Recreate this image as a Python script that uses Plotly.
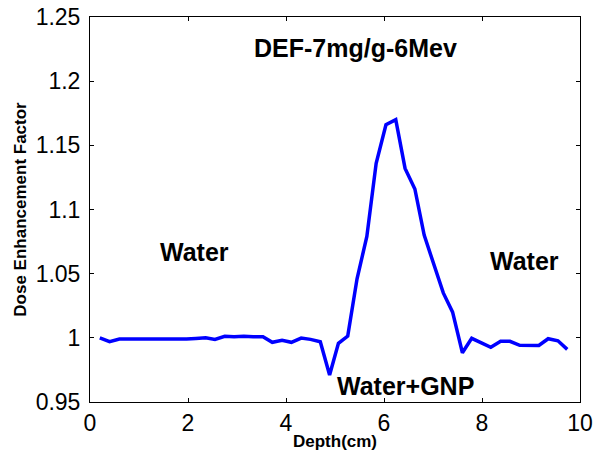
import plotly.graph_objects as go

depth_cm = [0.20, 0.40, 0.60, 0.80, 0.99, 1.19, 1.38, 1.58, 1.77, 1.97,
            2.16, 2.36, 2.55, 2.75, 2.94, 3.14, 3.33, 3.53, 3.72, 3.92,
            4.11, 4.31, 4.50, 4.70, 4.89, 5.07, 5.26, 5.45, 5.65, 5.84,
            6.04, 6.24, 6.43, 6.63, 6.82, 7.01, 7.21, 7.40, 7.60, 7.79,
            7.99, 8.18, 8.38, 8.57, 8.77, 8.96, 9.16, 9.35, 9.55, 9.74]
def_values = [1.0000, 0.9970, 0.9990, 0.9990, 0.9990, 0.9985, 0.9985, 0.9990, 0.9985, 0.9990,
              0.9995, 1.0000, 0.9988, 1.0012, 1.0008, 1.0012, 1.0008, 1.0008, 0.9965, 0.9980,
              0.9965, 0.9998, 0.9988, 0.9970, 0.9710, 0.9957, 1.0014, 1.0460, 1.0790, 1.1360,
              1.1660, 1.1700, 1.1320, 1.1160, 1.0800, 1.0580, 1.0350, 1.0200, 0.9884, 0.9996,
              0.9957, 0.9926, 0.9973, 0.9973, 0.9942, 0.9942, 0.9940, 0.9993, 0.9977, 0.9910]

x_ticks = [0, 2, 4, 6, 8, 10]
y_ticks = [0.95, 1.0, 1.05, 1.1, 1.15, 1.2, 1.25]
y_tick_text = ["0.95", "1", "1.05", "1.1", "1.15", "1.2", "1.25"]

chart_title = "DEF-7mg/g-6Mev"
region_labels = ["Water", "Water", "Water+GNP"]
region_x = [2.13, 8.86, 6.44]
region_y = [1.0665, 1.0595, 0.9625]

FONT = "Liberation Sans, Arial, sans-serif"

fig = go.Figure()
fig.add_trace(go.Scatter(
    x=depth_cm, y=def_values, mode="lines",
    line=dict(color="#0000FF", width=3.5),
    showlegend=False,
))

fig.add_annotation(x=5.42, y=1.2255, text="<b>%s</b>" % chart_title, showarrow=False,
                   font=dict(family=FONT, size=25, color="black"),
                   xanchor="center", yanchor="middle")
for t, xx, yy in zip(region_labels, region_x, region_y):
    fig.add_annotation(x=xx, y=yy, text="<b>%s</b>" % t, showarrow=False,
                       font=dict(family=FONT, size=25, color="black"),
                       xanchor="center", yanchor="middle")

axis_common = dict(
    showgrid=False, zeroline=False, showline=True, linecolor="black", linewidth=1,
    mirror="ticks", ticks="inside", ticklen=4, tickcolor="black", tickwidth=1,
    tickfont=dict(family=FONT, size=23, color="black"), automargin=False,
    ticklabeloverflow="allow",
)

fig.update_xaxes(range=[0, 10], tickvals=x_ticks, **axis_common,
                 title=dict(text="<b>Depth(cm)</b>", font=dict(family=FONT, size=17, color="black"),
                            standoff=0))
fig.update_yaxes(range=[0.95, 1.25], tickvals=y_ticks, ticktext=y_tick_text, **axis_common,
                 ticklabelstandoff=4,
                 title=dict(text="<b>Dose Enhancement Factor</b>", font=dict(family=FONT, size=17, color="black"),
                            standoff=4))

fig.update_layout(
    width=596, height=457,
    margin=dict(l=90, r=16, t=17, b=55, pad=0),
    paper_bgcolor="white", plot_bgcolor="white",
    font=dict(family=FONT, color="black"),
)

# remove the browser's default 8px body margin so the figure fills the window
fig.write_html("out.html", config={"displayModeBar": False},
               post_script="document.body.style.margin='0px';")
